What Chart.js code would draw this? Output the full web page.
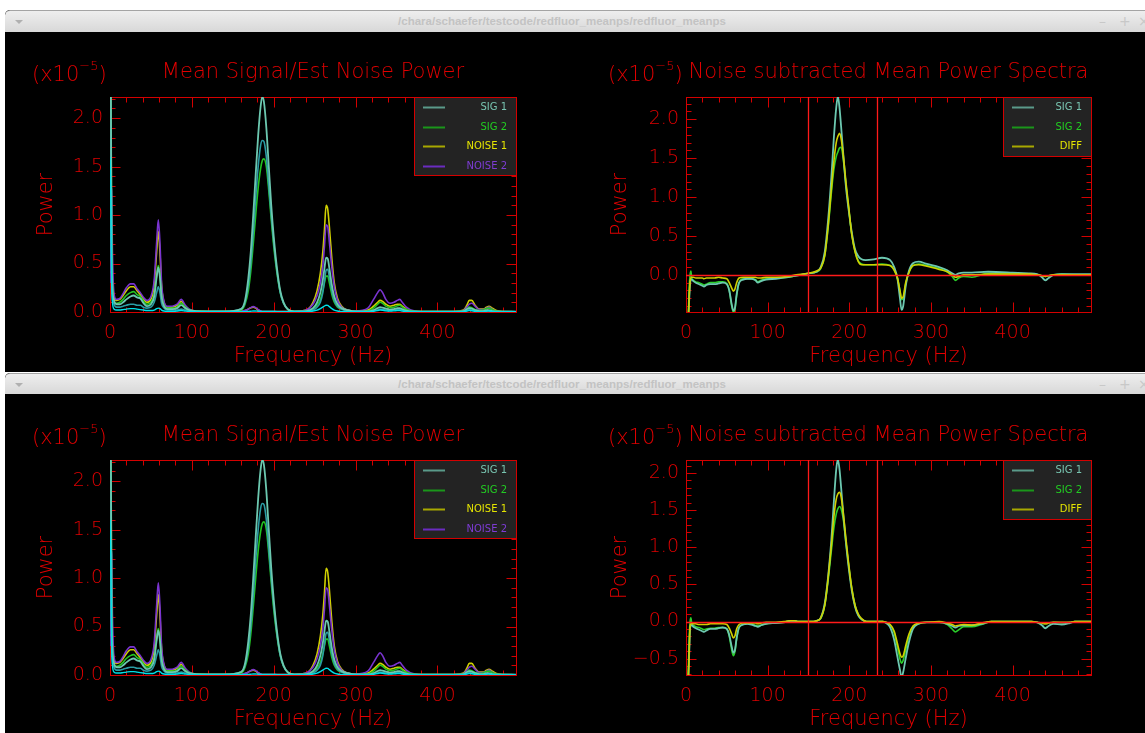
<!DOCTYPE html>
<html><head><meta charset="utf-8"><title>redfluor_meanps</title>
<script src="https://cdn.jsdelivr.net/npm/chart.js@4.4.1/dist/chart.umd.min.js"></script>
<style>
html,body{margin:0;padding:0;width:1145px;height:733px;overflow:hidden;background:#fff;font-family:'DejaVu Sans',sans-serif}
.win{position:absolute;left:5px;width:1170px;background:#000;border-top-left-radius:5px;overflow:hidden}
.bar{position:relative;height:21px;border-top:1px solid #a4a4a4;border-top-left-radius:5px;background:linear-gradient(#eeeeee,#d8d8d8)}
.tri{position:absolute;left:10px;top:9px;width:0;height:0;border-left:4px solid transparent;border-right:4px solid transparent;border-top:4px solid #b0b0b0}
.tt{position:absolute;left:0;width:1114px;top:4px;text-align:center;font:bold 11.5px 'Liberation Sans',sans-serif;color:#c3c3c3;white-space:nowrap}
.btn{position:absolute;top:2px;font:14px 'DejaVu Sans',sans-serif;color:#c8c8c8}
canvas{position:absolute}
</style></head><body>
<div class="win" style="top:10px;height:362px"><div class="bar"><span class="tri"></span><span class="tt">/chara/schaefer/testcode/redfluor_meanps/redfluor_meanps</span><span class="btn" style="left:1094px">–</span><span class="btn" style="left:1114px">+</span><span class="btn" style="left:1133px">×</span></div></div>
<div class="win" style="top:373px;height:360px"><div class="bar" style="height:20px"><span class="tri"></span><span class="tt">/chara/schaefer/testcode/redfluor_meanps/redfluor_meanps</span><span class="btn" style="left:1094px">–</span><span class="btn" style="left:1114px">+</span><span class="btn" style="left:1133px">×</span></div></div>
<canvas id="c1" width="570" height="340" style="left:5px;top:32px"></canvas>
<canvas id="c2" width="570" height="340" style="left:575px;top:32px"></canvas>
<canvas id="c3" width="570" height="340" style="left:5px;top:395px"></canvas>
<canvas id="c4" width="570" height="340" style="left:575px;top:395px"></canvas>
<script>
// ---------------- data (power in units of 1e-5) ----------------
const FREQ_L = [0,1,2,3,5,8,12,16,20,25, 29,33,37,41,45,50,54,57,59,61, 63,66,70,76,82,87,92,97,105,120, 140,160,165,169,172,175,178,181,184,186, 188,191,194,197,200,204,208,212,217,225, 240,248,253,257,260,262,264,266,268,271, 274,278,283,290,300,315,322,327,330,333, 337,342,347,351,354,357,362,370,385,420, 432,436,439,442,446,451,456,460,463,467, 472,480,496];
const L_SIG1 = [3.0,2.4,0.6,0.25,0.12,0.08,0.08,0.1,0.13,0.16, 0.17,0.15,0.14,0.09,0.06,0.08,0.16,0.36,0.46,0.36, 0.16,0.06,0.03,0.03,0.04,0.07,0.04,0.02,0.01,0.005, 0.005,0.03,0.12,0.35,0.62,1.0,1.42,1.82,2.12,2.22, 2.17,1.9,1.5,1.1,0.78,0.45,0.22,0.1,0.03,0.005, 0.01,0.04,0.1,0.2,0.33,0.45,0.56,0.55,0.45,0.28, 0.16,0.08,0.04,0.02,0.005,0.005,0.02,0.04,0.05,0.045, 0.035,0.025,0.03,0.04,0.04,0.03,0.015,0.005,0.003,0.003, 0.01,0.03,0.04,0.035,0.02,0.01,0.01,0.02,0.02,0.01, 0.005,0.003,0.003];
const L_SIG1B = [3.0,1.6,0.5,0.2,0.08,0.05,0.05,0.06,0.07,0.08, 0.08,0.07,0.07,0.05,0.04,0.05,0.1,0.2,0.26,0.2, 0.09,0.04,0.02,0.02,0.02,0.03,0.02,0.01,0.005,0.005, 0.005,0.03,0.1,0.28,0.5,0.82,1.18,1.5,1.72,1.77, 1.76,1.6,1.3,1.0,0.72,0.42,0.2,0.09,0.03,0.005, 0.005,0.02,0.05,0.1,0.2,0.32,0.43,0.44,0.36,0.22, 0.12,0.06,0.03,0.01,0.005,0.005,0.01,0.02,0.03,0.025, 0.02,0.015,0.02,0.025,0.025,0.02,0.01,0.005,0.003,0.003, 0.005,0.015,0.025,0.02,0.01,0.005,0.005,0.01,0.01,0.005, 0.003,0.003,0.003];
const L_SIG2 = [3.0,2.5,0.7,0.3,0.1,0.09,0.1,0.13,0.17,0.2, 0.21,0.18,0.16,0.11,0.08,0.1,0.18,0.38,0.48,0.38, 0.17,0.07,0.04,0.04,0.05,0.09,0.05,0.02,0.01,0.005, 0.005,0.02,0.08,0.22,0.42,0.7,1.0,1.28,1.48,1.56, 1.58,1.5,1.25,0.95,0.68,0.4,0.2,0.09,0.03,0.005, 0.01,0.03,0.07,0.13,0.22,0.3,0.37,0.37,0.3,0.18, 0.1,0.05,0.03,0.015,0.005,0.01,0.04,0.08,0.1,0.09, 0.06,0.045,0.05,0.065,0.07,0.05,0.025,0.01,0.005,0.005, 0.01,0.03,0.05,0.045,0.025,0.015,0.02,0.035,0.04,0.025, 0.01,0.005,0.003];
const L_NOISE1 = [0.4,0.42,0.4,0.3,0.15,0.12,0.13,0.17,0.22,0.26, 0.26,0.22,0.18,0.13,0.1,0.13,0.28,0.62,0.83,0.62, 0.27,0.1,0.05,0.05,0.07,0.11,0.06,0.02,0.01,0.005, 0.005,0.01,0.015,0.03,0.045,0.05,0.04,0.02,0.01,0.005, 0.005,0.005,0.005,0.005,0.005,0.005,0.005,0.005,0.005,0.005, 0.02,0.1,0.22,0.4,0.62,0.85,1.1,1.06,0.88,0.55, 0.3,0.14,0.06,0.02,0.01,0.02,0.06,0.1,0.12,0.11, 0.08,0.06,0.07,0.08,0.08,0.06,0.03,0.01,0.005,0.005, 0.02,0.07,0.12,0.12,0.07,0.03,0.03,0.05,0.06,0.04, 0.015,0.005,0.003];
const L_NOISE2 = [0.3,1.3,1.25,0.6,0.18,0.13,0.14,0.19,0.25,0.29, 0.29,0.24,0.2,0.15,0.12,0.16,0.33,0.72,0.95,0.72, 0.3,0.11,0.06,0.06,0.08,0.13,0.07,0.03,0.01,0.005, 0.005,0.01,0.015,0.03,0.045,0.055,0.045,0.025,0.01,0.005, 0.005,0.005,0.005,0.005,0.005,0.005,0.005,0.005,0.005,0.005, 0.02,0.08,0.17,0.3,0.48,0.68,0.9,0.88,0.72,0.46, 0.26,0.12,0.05,0.02,0.01,0.04,0.13,0.2,0.23,0.2, 0.13,0.09,0.1,0.12,0.13,0.1,0.05,0.015,0.005,0.005, 0.015,0.05,0.08,0.09,0.06,0.025,0.025,0.04,0.05,0.03, 0.01,0.005,0.003];
const L_BASE = [1.6,1.2,0.3,0.1,0.03,0.02,0.02,0.025,0.03,0.035, 0.035,0.03,0.025,0.02,0.015,0.015,0.02,0.035,0.04,0.035, 0.02,0.01,0.008,0.008,0.01,0.015,0.01,0.006,0.004,0.003, 0.003,0.004,0.005,0.006,0.008,0.01,0.01,0.008,0.006,0.005, 0.005,0.005,0.005,0.005,0.005,0.004,0.004,0.003,0.003,0.003, 0.004,0.01,0.02,0.035,0.05,0.062,0.07,0.068,0.055,0.035, 0.02,0.01,0.006,0.004,0.003,0.003,0.008,0.015,0.02,0.018, 0.012,0.01,0.012,0.015,0.015,0.01,0.006,0.003,0.003,0.003, 0.004,0.01,0.015,0.013,0.008,0.004,0.004,0.008,0.01,0.006, 0.003,0.003,0.003];

const FREQ_TR = [1,2,3,4,5,6,7,9,12,16, 20,22,25,30,35,40,45,50,53,56, 58,60,62,65,70,75,80,85,88,92, 98,110,125,135,150,160,165,170,174,178, 181,184,186,188,190,193,196,199,203,207, 211,215,220,230,240,250,255,259,262,264, 266,269,273,278,285,295,310,320,326,330, 334,340,350,370,400,420,430,436,440,444, 450,460,480,496];
const TR_SIG1 = [-0.6,-0.6,-0.55,-0.3,-0.12,-0.06,-0.06,-0.08,-0.1,-0.12, -0.14,-0.15,-0.13,-0.12,-0.12,-0.11,-0.1,-0.12,-0.2,-0.38, -0.46,-0.42,-0.25,-0.1,-0.06,-0.05,-0.05,-0.07,-0.1,-0.08, -0.06,-0.05,-0.03,-0.01,0.02,0.04,0.1,0.3,0.7,1.25, 1.75,2.15,2.29,2.15,1.9,1.5,1.12,0.85,0.55,0.33, 0.24,0.2,0.19,0.2,0.22,0.19,0.1,-0.05,-0.3,-0.45, -0.4,-0.15,0.05,0.15,0.17,0.14,0.1,0.06,0.02,0.0, 0.02,0.03,0.03,0.04,0.03,0.02,0.01,-0.03,-0.07,-0.04, 0.0,0.01,0.01,0.01];
const TR_SIG2 = [-0.6,-0.6,-0.45,-0.15,0.0,0.05,-0.04,-0.07,-0.09,-0.1, -0.12,-0.13,-0.12,-0.1,-0.1,-0.09,-0.09,-0.11,-0.2,-0.4, -0.48,-0.44,-0.27,-0.1,-0.05,-0.05,-0.05,-0.06,-0.09,-0.07, -0.05,-0.04,-0.03,-0.01,0.02,0.04,0.08,0.25,0.6,1.05, 1.35,1.52,1.58,1.63,1.64,1.45,1.15,0.88,0.52,0.3, 0.18,0.14,0.13,0.13,0.14,0.12,0.06,-0.05,-0.2,-0.32, -0.3,-0.12,0.03,0.12,0.14,0.12,0.08,0.04,-0.02,-0.07, -0.04,-0.02,-0.03,0.02,0.02,0.01,0.0,-0.01,-0.02,-0.01, 0.0,0.01,0.0,0.0];
const TR_DIFF = [-0.6,-0.6,-0.5,-0.25,-0.08,-0.04,-0.03,-0.03,-0.04,-0.04, -0.04,-0.05,-0.04,-0.04,-0.04,-0.03,-0.04,-0.05,-0.1,-0.17, -0.21,-0.18,-0.1,-0.04,-0.03,-0.03,-0.03,-0.03,-0.04,-0.04, -0.03,-0.03,-0.02,0.0,0.02,0.05,0.09,0.25,0.62,1.1, 1.45,1.7,1.78,1.82,1.75,1.5,1.18,0.9,0.52,0.3, 0.17,0.13,0.13,0.13,0.13,0.12,0.06,-0.04,-0.2,-0.3, -0.28,-0.1,0.03,0.12,0.13,0.11,0.07,0.04,0.0,-0.03, -0.02,0.0,0.0,0.01,0.01,0.01,0.0,-0.01,-0.02,-0.01, 0.0,0.0,0.0,0.0];

const FREQ_BR = [1,2,3,4,5,6,7,9,12,16, 20,22,25,30,35,40,45,50,53,56, 58,60,62,65,70,75,80,85,88,92, 98,110,120,128,133,137,150,156,160,165, 170,174,178,181,184,186,188,190,193,196, 199,203,207,211,215,221,235,241,245,250, 255,259,262,264,266,269,273,278,285,295, 310,320,326,330,334,340,350,362,374,400, 423,430,436,440,444,450,460,470,476,480, 496];
const BR_SIG1 = [-0.8,-0.8,-0.75,-0.4,-0.1,-0.05,-0.05,-0.07,-0.09,-0.11, -0.13,-0.14,-0.12,-0.1,-0.1,-0.09,-0.08,-0.1,-0.18,-0.34, -0.42,-0.38,-0.22,-0.08,-0.04,-0.03,-0.04,-0.06,-0.07,-0.05, -0.03,-0.02,-0.01,0.01,0.01,0.0,0.0,0.0,0.01,0.05, 0.25,0.6,1.1,1.6,2.05,2.18,2.05,1.8,1.4,1.05, 0.75,0.42,0.2,0.08,0.03,0.0,0.0,0.0,-0.02,-0.08, -0.25,-0.48,-0.65,-0.75,-0.68,-0.5,-0.28,-0.1,-0.03,-0.01, -0.01,-0.03,-0.06,-0.08,-0.06,-0.05,-0.05,-0.03,0.0,0.0, 0.0,-0.01,-0.05,-0.09,-0.06,-0.03,-0.04,-0.02,0.0,0.0, 0.0];
const BR_SIG2 = [-0.8,-0.8,-0.6,-0.2,0.0,0.05,-0.03,-0.05,-0.07,-0.08, -0.1,-0.11,-0.1,-0.09,-0.09,-0.08,-0.08,-0.1,-0.2,-0.38, -0.46,-0.4,-0.24,-0.08,-0.04,-0.03,-0.03,-0.05,-0.06,-0.05, -0.03,-0.02,-0.01,0.01,0.01,0.0,0.0,0.0,0.01,0.04, 0.22,0.55,0.95,1.25,1.45,1.52,1.55,1.52,1.35,1.05, 0.78,0.45,0.22,0.09,0.03,0.0,0.0,0.0,-0.01,-0.05, -0.15,-0.35,-0.5,-0.56,-0.52,-0.38,-0.2,-0.07,-0.03,-0.01, -0.01,-0.04,-0.1,-0.14,-0.11,-0.07,-0.07,-0.04,0.0,0.0, 0.0,-0.01,-0.02,-0.03,-0.02,-0.01,-0.02,-0.01,0.0,0.0, 0.0];
const BR_DIFF = [-0.8,-0.8,-0.7,-0.35,-0.06,-0.03,-0.03,-0.03,-0.03,-0.04, -0.04,-0.04,-0.04,-0.03,-0.03,-0.03,-0.03,-0.04,-0.09,-0.17, -0.22,-0.19,-0.1,-0.04,-0.02,-0.02,-0.02,-0.02,-0.03,-0.02, -0.01,-0.01,0.0,0.01,0.01,0.0,0.0,0.0,0.01,0.05, 0.22,0.58,1.02,1.4,1.65,1.72,1.74,1.68,1.42,1.1, 0.8,0.45,0.22,0.1,0.04,0.0,0.0,0.0,-0.01,-0.04, -0.13,-0.3,-0.43,-0.48,-0.46,-0.33,-0.17,-0.06,-0.02,-0.01, 0.0,-0.02,-0.04,-0.06,-0.05,-0.04,-0.05,-0.02,0.0,0.0, 0.0,-0.01,-0.02,-0.03,-0.02,-0.01,-0.01,-0.01,0.0,0.0, 0.0];

// axes / labels
const X_MAX = 496;
const X_LABEL_TICKS = [0,100,200,300,400];
const Y_LABEL_TICKS = [-0.5,0,0.5,1,1.5,2];
const Y_RANGE_L = [0, 2.218];
const Y_RANGE_TR = [-0.477, 2.286];
const Y_RANGE_BR = [-0.72, 2.176];
const MARKERS_R = [150, 234];
const ZERO_LINE = [0];
const LEGEND_L = ['SIG 1','SIG 2','NOISE 1','NOISE 2'];
const LEGEND_R = ['SIG 1','SIG 2','DIFF'];
const TITLE_L = 'Mean Signal/Est Noise Power';
const TITLE_R = 'Noise subtracted Mean Power Spectra';

// ---------------- styling ----------------
const FONT = "'DejaVu Sans', sans-serif";
const FW = '200';
const TEXT_RED = '#e00000';
const AXIS_RED = '#d40000';
const REF_RED = '#ff1a1a';
const LEG_LINE = {'SIG 1':'#5a9a8a','SIG 2':'#1a961a','NOISE 1':'#a8a800','NOISE 2':'#6a2cc0','DIFF':'#a8a800'};
const LEG_TEXT = {'SIG 1':'#78c4b0','SIG 2':'#22cc22','NOISE 1':'#e4e400','NOISE 2':'#7c3cd4','DIFF':'#e4e400'};

function fmtY(v){ const s = Math.abs(v).toFixed(1); return v < -1e-9 ? '\u2212' + s : s; }

const idlFrame = {
  id: 'idlFrame',
  beforeDatasetsDraw(chart) {
    const {ctx, chartArea: a, scales: {x, y}} = chart;
    const L = Math.round(a.left) + 0.5, R = Math.round(a.right) + 0.5;
    const T = Math.round(a.top) + 0.5, B = Math.round(a.bottom) + 0.5;
    ctx.save();
    ctx.strokeStyle = AXIS_RED; ctx.lineWidth = 1;
    ctx.strokeRect(L, T, R - L, B - T);
    ctx.beginPath();
    for (let v = 0; v <= x.max + 1e-6; v += 20) {
      const px = Math.round(x.getPixelForValue(v)) + 0.5;
      const len = (v % 100 === 0) ? 10 : 5;
      ctx.moveTo(px, B); ctx.lineTo(px, B - len);
      ctx.moveTo(px, T); ctx.lineTo(px, T + len);
    }
    for (let k = Math.ceil(y.min * 10 - 1e-6); k * 0.1 <= y.max + 1e-6; k++) {
      const py = Math.round(y.getPixelForValue(k * 0.1)) + 0.5;
      const len = (k % 5 === 0) ? 10 : 5;
      ctx.moveTo(L, py); ctx.lineTo(L + len, py);
      ctx.moveTo(R, py); ctx.lineTo(R - len, py);
    }
    ctx.stroke();
    ctx.restore();
  },
  afterDatasetsDraw(chart, args, o) {
    const {ctx, chartArea: a, scales: {x, y}} = chart;
    ctx.save();
    ctx.strokeStyle = REF_RED; ctx.lineWidth = 1.3;
    ctx.beginPath();
    (o.vlines || []).forEach(v => { const px = Math.round(x.getPixelForValue(v)) + 0.5; ctx.moveTo(px, a.top); ctx.lineTo(px, a.bottom); });
    (o.hlines || []).forEach(v => { const py = Math.round(y.getPixelForValue(v)) + 0.5; ctx.moveTo(a.left, py); ctx.lineTo(a.right, py); });
    ctx.stroke();
    // legend
    const items = o.legend || [];
    if (items.length) {
      ctx.font = "10px " + FONT;
      const tw = Math.max(...items.map(t => ctx.measureText(t).width));
      const w = Math.round(9 + 22 + 21 + tw + 9);
      const h = Math.round(19.5 * items.length);
      const bx = Math.round(a.right) - w, by = Math.round(a.top);
      ctx.fillStyle = '#232323'; ctx.fillRect(bx, by, w, h);
      ctx.strokeStyle = AXIS_RED; ctx.lineWidth = 1; ctx.strokeRect(bx + 0.5, by + 0.5, w, h);
      items.forEach((t, i) => {
        const cy = Math.round(by + 10 + 19.5 * i) + 0.5;
        ctx.strokeStyle = LEG_LINE[t]; ctx.lineWidth = 2;
        ctx.beginPath(); ctx.moveTo(bx + 9, cy); ctx.lineTo(bx + 31, cy); ctx.stroke();
        ctx.fillStyle = LEG_TEXT[t]; ctx.textAlign = 'right'; ctx.textBaseline = 'middle';
        ctx.fillText(t, bx + w - 9, cy);
      });
    }
    // exponent label
    ctx.fillStyle = TEXT_RED; ctx.textAlign = 'left'; ctx.textBaseline = 'alphabetic';
    let ex = a.left - 78; const ey = a.top - 16;
    ctx.font = FW + " 21px " + FONT; ctx.fillText('(x10', ex, ey); ex += ctx.measureText('(x10').width;
    ctx.font = FW + " 13px " + FONT; ctx.fillText('\u22125', ex, ey - 11); ex += ctx.measureText('\u22125').width;
    ctx.font = FW + " 21px " + FONT; ctx.fillText(')', ex, ey);
    ctx.restore();
  }
};

function makeChart(id, freq, series, yRange, cfg) {
  const datasets = series.map((s, k) => ({
    label: s.label,
    data: freq.map((f, i) => ({x: f, y: s.values[i]})),
    borderColor: s.color, borderWidth: s.width || 1.6,
    pointRadius: 0, pointHoverRadius: 0, fill: false,
    cubicInterpolationMode: 'monotone', clip: 0, order: k
  }));
  return new Chart(document.getElementById(id), {
    type: 'line',
    data: { datasets },
    plugins: [idlFrame],
    options: {
      responsive: false, animation: false, devicePixelRatio: 1, events: [],
      layout: { padding: { left: 0, right: cfg.rightPad, top: 0, bottom: 0 } },
      plugins: {
        legend: { display: false }, tooltip: { enabled: false },
        title: { display: true, text: cfg.title, color: TEXT_RED, fullSize: false,
                 font: { family: FONT, size: 21, weight: FW }, padding: { top: 28.4, bottom: 11.4 } },
        idlFrame: { vlines: cfg.vlines || [], hlines: cfg.hlines || [], legend: cfg.legend }
      },
      scales: {
        x: {
          type: 'linear', min: 0, max: X_MAX,
          afterBuildTicks: s => { s.ticks = X_LABEL_TICKS.map(v => ({ value: v })); },
          afterFit: s => { s.height = 60; },
          grid: { display: false, drawTicks: false }, border: { display: false },
          ticks: { color: TEXT_RED, font: { family: FONT, size: 19, weight: FW }, padding: 10, maxRotation: 0, autoSkip: false, callback: v => String(v) },
          title: { display: true, text: 'Frequency (Hz)', color: TEXT_RED, font: { family: FONT, size: 21, weight: FW }, padding: { top: 0, bottom: 3 } }
        },
        y: {
          type: 'linear', min: yRange[0], max: yRange[1],
          afterBuildTicks: s => { s.ticks = Y_LABEL_TICKS.filter(v => v >= s.min - 1e-9 && v <= s.max + 1e-9).map(v => ({ value: v })); },
          afterFit: s => { s.width = cfg.yWidth; },
          grid: { display: false, drawTicks: false }, border: { display: false },
          ticks: { color: TEXT_RED, font: { family: FONT, size: 19, weight: FW }, padding: 7, autoSkip: false, callback: v => fmtY(v) },
          title: { display: true, text: 'Power', color: TEXT_RED, font: { family: FONT, size: 21, weight: FW }, padding: { top: cfg.yTitlePad, bottom: 0 } }
        }
      }
    }
  });
}

const leftSeries = [
  { label: 'base',    values: L_BASE,   color: '#00e0e8', width: 1.4 },
  { label: 'SIG 1',   values: L_SIG1,   color: '#6cc8b0', width: 1.8 },
  { label: 'sig1b',   values: L_SIG1B,  color: '#2a9ca4', width: 1.6 },
  { label: 'SIG 2',   values: L_SIG2,   color: '#22c422', width: 1.6 },
  { label: 'NOISE 2', values: L_NOISE2, color: '#7a34d0', width: 1.6 },
  { label: 'NOISE 1', values: L_NOISE1, color: '#d0d000', width: 1.6 }
];
const leftCfg = { title: TITLE_L, rightPad: 59, yWidth: 105, yTitlePad: 29, legend: LEGEND_L };
makeChart('c1', FREQ_L, leftSeries, Y_RANGE_L, leftCfg);
makeChart('c3', FREQ_L, leftSeries, Y_RANGE_L, leftCfg);

const rightCfg = { title: TITLE_R, rightPad: 54, yWidth: 111, yTitlePad: 32.5, legend: LEGEND_R, vlines: MARKERS_R, hlines: ZERO_LINE };
makeChart('c2', FREQ_TR, [
  { label: 'DIFF',  values: TR_DIFF, color: '#d0d000', width: 1.6 },
  { label: 'SIG 1', values: TR_SIG1, color: '#6cc8b0', width: 1.8 },
  { label: 'SIG 2', values: TR_SIG2, color: '#2ad02a', width: 1.6 }
], Y_RANGE_TR, rightCfg);
makeChart('c4', FREQ_BR, [
  { label: 'DIFF',  values: BR_DIFF, color: '#d0d000', width: 1.6 },
  { label: 'SIG 1', values: BR_SIG1, color: '#6cc8b0', width: 1.8 },
  { label: 'SIG 2', values: BR_SIG2, color: '#2ad02a', width: 1.6 }
], Y_RANGE_BR, rightCfg);
</script>
</body></html>
